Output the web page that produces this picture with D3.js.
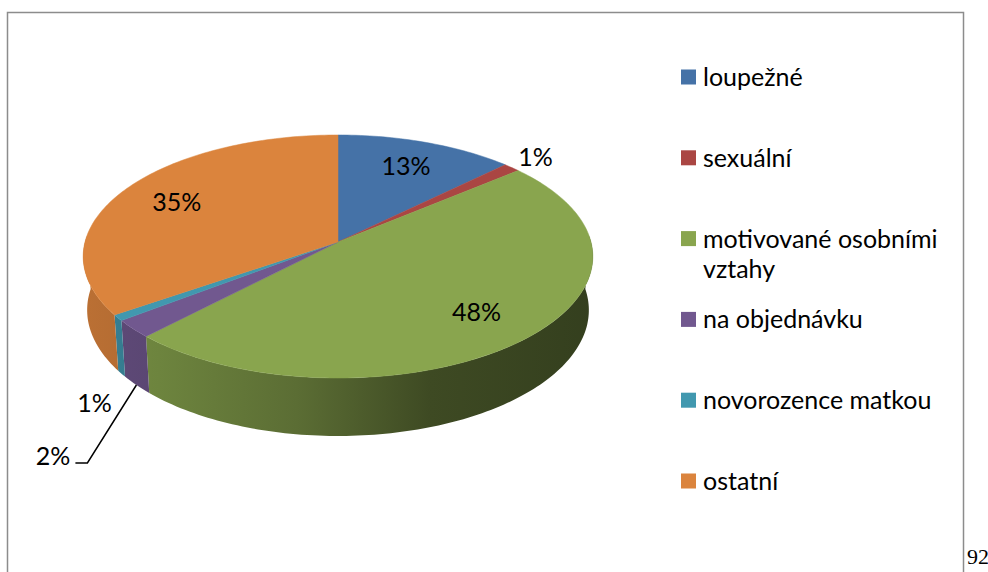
<!DOCTYPE html>
<html>
<head>
<meta charset="utf-8">
<script src="https://cdn.jsdelivr.net/npm/d3@7"></script>
<style>
  body { margin: 0; background: #fff; }
  text { font-family: Lato, "Open Sans", sans-serif; }
</style>
</head>
<body>
<svg id="chart" width="988" height="572"></svg>
<script>
// data
var categories = ["loupežné", "sexuální", "motivované osobními vztahy", "na objednávku", "novorozence matkou", "ostatní"];
var shares = [12.7, 1.2, 48.3, 2.4, 0.8, 34.6];
var pctLabels = ["13%", "1%", "48%", "2%", "1%", "35%"];
var colors = ["#4572A7", "#AA4643", "#89A54E", "#71588F", "#4198AF", "#DB843D"];
var pageNumber = "92";

var svg = d3.select("#chart");
    width = +svg.attr("width");
    height = +svg.attr("height");

// frame of the chart area
svg.append("rect")
    .attr("x", 7.5).attr("y", 12.5)
    .attr("width", 956).attr("height", 600)
    .attr("fill", "none").attr("stroke", "#8c8c8c").attr("stroke-width", 1.5);

svg.append("text")
    .attr("x", 967).attr("y", 564)
    .style("font-family", "'Liberation Serif', 'Times New Roman', serif")
    .style("font-size", "22px")
    .text(pageNumber);

// perspective pie (camera looking down at ~28 deg)
var cx = 338, cy = 242,
    D = 7.386, F = 1868.6, sinE = 0.4735, cosE = 0.8808, H = 0.2427;

function proj(a, r, z) {
  var X = r * Math.sin(a), Y = r * Math.cos(a);
  var depth = D + Y * cosE - z * sinE;
  return [cx + F * X / depth, cy - F * (Y * sinE + z * cosE) / depth];
}

function arcPts(a0, a1, r, z) {
  var n = Math.max(2, Math.ceil(Math.abs(a1 - a0) / 0.02));
  return d3.range(n + 1).map(function(i) { return proj(a0 + (a1 - a0) * i / n, r, z); });
}

var pie = d3.pie().sort(null).value(function(d) { return d; });
var arcs = pie(shares);
var line = d3.line();

// side shading, darker towards the right
var defs = svg.append("defs");
var shade = [[0, 0.45], [0.15, 0.63], [0.42, 1.16], [0.68, 2.24], [1, 2.7]];
colors.forEach(function(c, i) {
  var g = defs.append("linearGradient")
      .attr("id", "side" + i)
      .attr("gradientUnits", "userSpaceOnUse")
      .attr("x1", cx - 255).attr("x2", cx + 255)
      .attr("y1", 0).attr("y2", 0);
  shade.forEach(function(s) {
    g.append("stop").attr("offset", s[0]).attr("stop-color", d3.rgb(c).darker(s[1]));
  });
});

var lo = Math.PI * 0.484, hi = Math.PI * 1.516;
var sides = svg.append("g");
arcs.forEach(function(d, i) {
  var s0 = Math.max(d.startAngle, lo), s1 = Math.min(d.endAngle, hi);
  if (s1 <= s0) return;
  var pts = arcPts(s0, s1, 1, 0).concat(arcPts(s1, s0, 1, -H));
  sides.append("path")
      .attr("d", line(pts) + "Z")
      .attr("fill", "url(#side" + i + ")");
});

var tops = svg.append("g");
arcs.forEach(function(d, i) {
  var pts = [proj(0, 0, 0)].concat(arcPts(d.startAngle, d.endAngle, 1, 0));
  tops.append("path")
      .attr("d", line(pts) + "Z")
      .attr("fill", colors[i])
      .attr("stroke", colors[i]).attr("stroke-width", 0.5);
});

// data labels
var labels = svg.append("g")
    .style("font-size", "25px")
    .attr("fill", "#000");
arcs.forEach(function(d, i) {
  var mid = (d.startAngle + d.endAngle) / 2;
  var p;
  if (shares[i] >= 5) {
    p = proj(mid, 0.75, 0);
    labels.append("text").attr("x", p[0]).attr("y", p[1] + 9)
        .attr("text-anchor", "middle").text(pctLabels[i]);
  } else if (Math.cos(mid) > 0) {
    p = proj(mid, 1.15, 0);
    labels.append("text").attr("x", p[0]).attr("y", p[1] + 9)
        .attr("text-anchor", "middle").text(pctLabels[i]);
  }
});
// small slices at the front: teal sits next to the pie, purple gets a leader
(function() {
  var pPurple = proj((arcs[3].startAngle + arcs[3].endAngle) / 2, 1, -H);
  var pTeal = proj((arcs[4].startAngle + arcs[4].endAngle) / 2, 1, -H);
  labels.append("text").attr("x", pTeal[0] - 27).attr("y", pTeal[1] + 38)
      .attr("text-anchor", "middle").text(pctLabels[4]);
  var bend = [pPurple[0] - 49, pPurple[1] + 78];
  svg.append("path")
      .attr("d", line([pPurple, bend, [bend[0] - 12, bend[1]]]))
      .attr("fill", "none").attr("stroke", "#000").attr("stroke-width", 1.5);
  labels.append("text").attr("x", bend[0] - 17).attr("y", bend[1] + 2)
      .attr("text-anchor", "end").text(pctLabels[3]);
})();

// legend
var legend = svg.append("g")
    .attr("transform", "translate(681,0)")
    .style("font-size", "25px");
categories.forEach(function(name, i) {
  var yc = 77 + i * 80.8;
  legend.append("rect")
      .attr("x", 0).attr("y", yc - 7.5)
      .attr("width", 15).attr("height", 15)
      .attr("fill", colors[i]);
  var t = legend.append("text").attr("x", 22).attr("y", yc + 9);
  var words = name.split(" "), ln = [];
  var ts = t.append("tspan").attr("x", 22);
  words.forEach(function(w) {
    ln.push(w);
    ts.text(ln.join(" "));
    if (ts.node().getComputedTextLength() > 255 && ln.length > 1) {
      ln.pop();
      ts.text(ln.join(" "));
      ln = [w];
      ts = t.append("tspan").attr("x", 22).attr("dy", 30).text(w);
    }
  });
});
</script>
</body>
</html>
